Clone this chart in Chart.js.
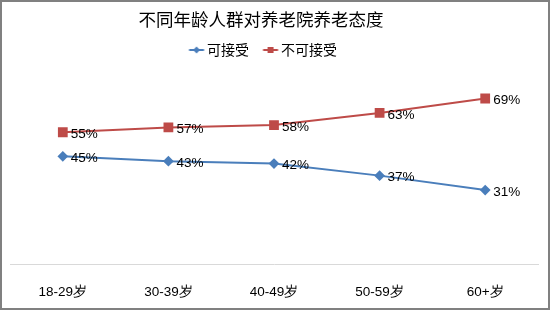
<!DOCTYPE html>
<html>
<head>
<meta charset="utf-8">
<script src="https://cdn.jsdelivr.net/npm/chart.js@4"></script>
<style>
html,body{margin:0;padding:0;background:#fff;}
#wrap{width:550px;height:310px;position:relative;}
</style>
</head>
<body>
<div id="wrap"><canvas id="c" width="550" height="310"></canvas></div>
<script>
const categories = ['18-29岁', '30-39岁', '40-49岁', '50-59岁', '60+岁'];
const acceptable = [45, 43, 42, 37, 31];
const notAcceptable = [55, 57, 58, 63, 69];
const seriesNames = ['可接受', '不可接受'];
const titleText = '不同年龄人群对养老院养老态度';

const BLUE = '#4A7EBB';
const RED = '#BE4B48';

function legendImg(color, style) {
  const cv = document.createElement('canvas');
  cv.width = 32; cv.height = 10;
  const g = cv.getContext('2d');
  g.strokeStyle = color; g.lineWidth = 2;
  g.beginPath(); g.moveTo(7.5, 5); g.lineTo(22.5, 5); g.stroke();
  g.fillStyle = color;
  const cx = 15;
  if (style === 'diamond') {
    g.beginPath(); g.moveTo(cx, 1.5); g.lineTo(cx + 3.5, 5); g.lineTo(cx, 8.5); g.lineTo(cx - 3.5, 5); g.closePath(); g.fill();
  } else {
    g.fillRect(cx - 3, 2, 6, 6);
  }
  return cv;
}
const legendImgs = [legendImg(BLUE, 'diamond'), legendImg(RED, 'square')];

// Header (title + legend) sits slightly left of plot centre and a bit higher in the reference
const shiftPlugin = {
  id: 'shiftHeader',
  afterLayout(chart) {
    const up = 5;
    const tb = chart.titleBlock, lg = chart.legend;
    if (tb) { tb.left -= 13; tb.right -= 13; tb.top -= up; tb.bottom -= up; }
    if (lg) { lg.left -= 8; lg.right -= 8; lg.top -= up; lg.bottom -= up; }
  }
};

const borderPlugin = {
  id: 'frame',
  afterDraw(chart) {
    const ctx = chart.ctx;
    ctx.save();
    ctx.strokeStyle = '#808080';
    ctx.lineWidth = 2;
    ctx.strokeRect(1, 1, chart.width - 2, chart.height - 2);
    ctx.restore();
  }
};

const labelPlugin = {
  id: 'valueLabels',
  afterDatasetsDraw(chart) {
    const ctx = chart.ctx;
    ctx.save();
    ctx.font = '13.5px "Liberation Sans", Arial, sans-serif';
    ctx.fillStyle = '#000';
    ctx.textAlign = 'left';
    ctx.textBaseline = 'middle';
    chart.data.datasets.forEach((ds, di) => {
      const meta = chart.getDatasetMeta(di);
      meta.data.forEach((pt, i) => {
        ctx.fillText(ds.data[i] + '%', pt.x + 8, pt.y + 2);
      });
    });
    ctx.restore();
  }
};

new Chart(document.getElementById('c'), {
  type: 'line',
  data: {
    labels: categories,
    datasets: [
      {
        label: seriesNames[0],
        data: acceptable,
        borderColor: BLUE,
        backgroundColor: BLUE,
        borderWidth: 2,
        pointStyle: 'rectRot',
        pointRadius: 4,
        pointHoverRadius: 4,
        tension: 0
      },
      {
        label: seriesNames[1],
        data: notAcceptable,
        borderColor: RED,
        backgroundColor: RED,
        borderWidth: 2,
        pointStyle: 'rect',
        pointRadius: 5.5,
        pointHoverRadius: 5.5,
        tension: 0
      }
    ]
  },
  options: {
    responsive: false,
    animation: false,
    devicePixelRatio: 1,
    layout: { padding: { top: 14, left: 10, right: 12, bottom: 10 } },
    plugins: {
      title: {
        display: true,
        text: titleText,
        color: '#000',
        font: { family: '"Noto Sans CJK SC", sans-serif', size: 17.5, weight: 'normal' },
        padding: { top: 0, bottom: -7 }
      },
      legend: {
        display: true,
        position: 'top',
        labels: {
          color: '#000',
          font: { family: '"Noto Sans CJK SC", sans-serif', size: 14 },
          usePointStyle: true,
          pointStyleWidth: 5,
          boxHeight: 10,
          padding: 20,
          generateLabels(chart) {
            const items = Chart.defaults.plugins.legend.labels.generateLabels(chart);
            items.forEach((it, i) => { it.pointStyle = legendImgs[i]; });
            return items;
          }
        }
      },
      tooltip: { enabled: false }
    },
    scales: {
      x: {
        offset: true,
        grid: { display: false, drawTicks: true, tickLength: 19 },
        border: { display: true, color: '#d9d9d9', width: 1 },
        ticks: {
          color: '#000',
          font: { family: '"Liberation Sans", Arial, sans-serif', size: 13.5 },
          padding: 0,
          maxRotation: 0
        }
      },
      y: {
        display: false,
        min: 0,
        max: 80
      }
    }
  },
  plugins: [shiftPlugin, labelPlugin, borderPlugin]
});
</script>
</body>
</html>
